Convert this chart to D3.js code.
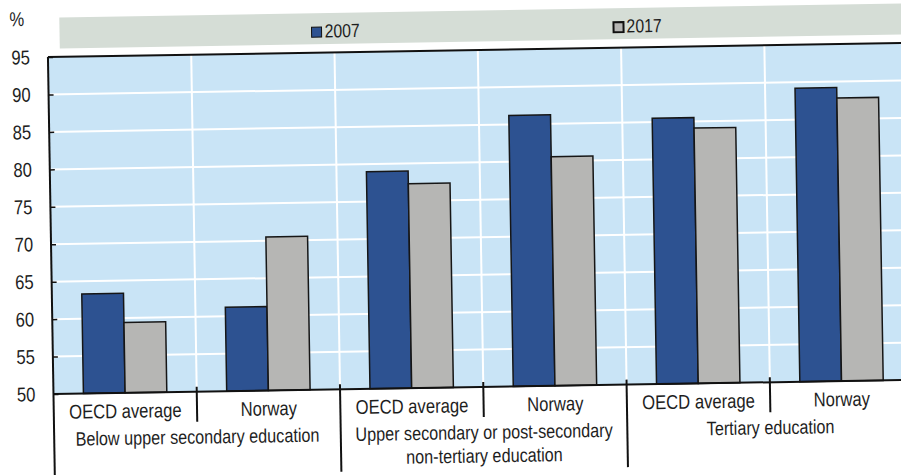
<!DOCTYPE html>
<html>
<head>
<meta charset="utf-8">
<script src="https://cdn.jsdelivr.net/npm/d3@7"></script>
<style>
  html, body { margin: 0; padding: 0; background: #ffffff; }
  svg { display: block; }
  text { font-family: "Liberation Sans", Arial, sans-serif; fill: #1e1e1e; }
</style>
</head>
<body>
<svg id="chart" width="901" height="475"></svg>
<script>
// ---- Data ----
const groups = ["Below upper secondary education", "Upper secondary or post-secondary non-tertiary education", "Tertiary education"];
const groupLabelLines = [["Below upper secondary education"], ["Upper secondary or post-secondary", "non-tertiary education"], ["Tertiary education"]];
const countries = ["OECD average", "Norway"];
const seriesNames = ["2007", "2017"];
const values2007 = [63.3, 61.2, 79.0, 86.2, 85.5, 89.2];
const values2017 = [59.4, 70.5, 77.3, 80.6, 84.1, 87.8];
const yTicks = [50, 55, 60, 65, 70, 75, 80, 85, 90, 95];

(function () {
// ---- Build rows ----
const rows = [];
groups.forEach((g, gi) => countries.forEach((c, ci) => {
  const i = gi * countries.length + ci;
  rows.push({ key: g + "|" + c, group: g, country: c, values: { "2007": values2007[i], "2017": values2017[i] } });
}));

const colors = { "2007": "#2d5291", "2017": "#b6b6b4" };

const svg = d3.select("#chart");
// slight scan rotation of the reference
const g = svg.append("g").attr("transform", "rotate(-0.94,450,240)");

const plotLeft = 51, catW = 143.3;
const plotTop = 50.5, base = 387.5;
const plotRight = plotLeft + catW * rows.length;

const x0 = d3.scaleBand().domain(rows.map(d => d.key)).range([plotLeft, plotRight]).paddingInner(0).paddingOuter(0);
const x1 = d3.scaleBand().domain(seriesNames).range([0, x0.bandwidth()]).paddingInner(0).paddingOuter(0.718);
const y = d3.scaleLinear().domain([50, 95]).range([base, plotTop]);

// legend band
g.append("rect").attr("x", 63).attr("y", 11).attr("width", 870).attr("height", 31).attr("fill", "#d5ddd6");
const legendPos = [{ s: "2007", x: 315 }, { s: "2017", x: 617 }];
legendPos.forEach(l => {
  g.append("rect").attr("x", l.x).attr("y", 25).attr("width", 10).attr("height", 10)
    .attr("fill", colors[l.s]).attr("stroke", "#111").attr("stroke-width", l.s === "2017" ? 2 : 1);
  g.append("text").attr("class", "nar").attr("x", l.x + 13).attr("y", 35.5).attr("font-size", 19).text(l.s);
});

// % label
g.append("text").attr("class", "nar").attr("x", 13).attr("y", 19).attr("font-size", 20).text("%");

// plot background
g.append("rect").attr("x", plotLeft).attr("y", plotTop).attr("width", plotRight - plotLeft).attr("height", base - plotTop).attr("fill", "#c9e4f6");

// horizontal gridlines
g.append("g").selectAll("line").data(yTicks.filter(t => t > 50 && t < 95)).join("line")
  .attr("x1", plotLeft).attr("x2", plotRight).attr("y1", d => y(d)).attr("y2", d => y(d))
  .attr("stroke", "#ffffff").attr("stroke-width", 2);
// vertical gridlines at category boundaries
g.append("g").selectAll("line").data(rows.slice(1)).join("line")
  .attr("x1", d => x0(d.key)).attr("x2", d => x0(d.key)).attr("y1", plotTop).attr("y2", base)
  .attr("stroke", "#ffffff").attr("stroke-width", 2);

// bars
const cat = g.append("g").selectAll("g").data(rows).join("g").attr("transform", d => `translate(${x0(d.key)},0)`);
cat.selectAll("rect").data(d => seriesNames.map(s => ({ s, v: d.values[s] }))).join("rect")
  .attr("x", d => x1(d.s)).attr("width", x1.bandwidth())
  .attr("y", d => y(d.v)).attr("height", d => y(50) - y(d.v))
  .attr("fill", d => colors[d.s]).attr("stroke", "#161616").attr("stroke-width", 1.5);

// y axis
const yAxis = d3.axisLeft(y).tickValues(yTicks).tickSize(-5).tickPadding(18).tickFormat(d3.format("d"));
const ya = g.append("g").attr("transform", `translate(${plotLeft},0)`).call(yAxis);
ya.select(".domain").remove();
ya.selectAll(".tick line").attr("stroke", "#111").attr("stroke-width", 1.5);
ya.selectAll(".tick text").attr("class", "nar").attr("font-size", 20).attr("fill", "#1e1e1e")
  .style("font-family", '"Liberation Sans", Arial, sans-serif');

// frame lines
g.append("line").attr("x1", plotLeft).attr("x2", plotRight).attr("y1", plotTop).attr("y2", plotTop).attr("stroke", "#111").attr("stroke-width", 2);
g.append("line").attr("x1", plotLeft).attr("x2", plotRight).attr("y1", base).attr("y2", base).attr("stroke", "#111").attr("stroke-width", 2);
g.append("line").attr("x1", plotLeft).attr("x2", plotLeft).attr("y1", plotTop).attr("y2", 472).attr("stroke", "#111").attr("stroke-width", 2);

// category separators below axis
rows.slice(1).forEach((d, i) => {
  const isGroupBoundary = (i + 1) % countries.length === 0;
  g.append("line").attr("x1", x0(d.key)).attr("x2", x0(d.key))
    .attr("y1", base - 5).attr("y2", isGroupBoundary ? 470 : base + 30)
    .attr("stroke", "#111").attr("stroke-width", 2);
});

// sub-category labels
g.append("g").selectAll("text").data(rows).join("text").attr("class", "nar")
  .attr("x", d => x0(d.key) + x0.bandwidth() / 2).attr("y", 412.5)
  .attr("text-anchor", "middle").attr("font-size", 20).text(d => d.country);

// group labels
groups.forEach((gr, gi) => {
  const cx = plotLeft + catW * countries.length * (gi + 0.5);
  groupLabelLines[gi].forEach((line, li) => {
    g.append("text").attr("class", "nar").attr("x", cx).attr("y", 439.5 + li * 23.5)
      .attr("text-anchor", "middle").attr("font-size", 19.5).text(line);
  });
});

// condense all text (narrow typeface look)
svg.selectAll("text.nar").each(function () {
  const w = this.getComputedTextLength();
  if (w > 0) d3.select(this).attr("textLength", (w * 0.83).toFixed(1)).attr("lengthAdjust", "spacingAndGlyphs");
});
})();
</script>
</body>
</html>
